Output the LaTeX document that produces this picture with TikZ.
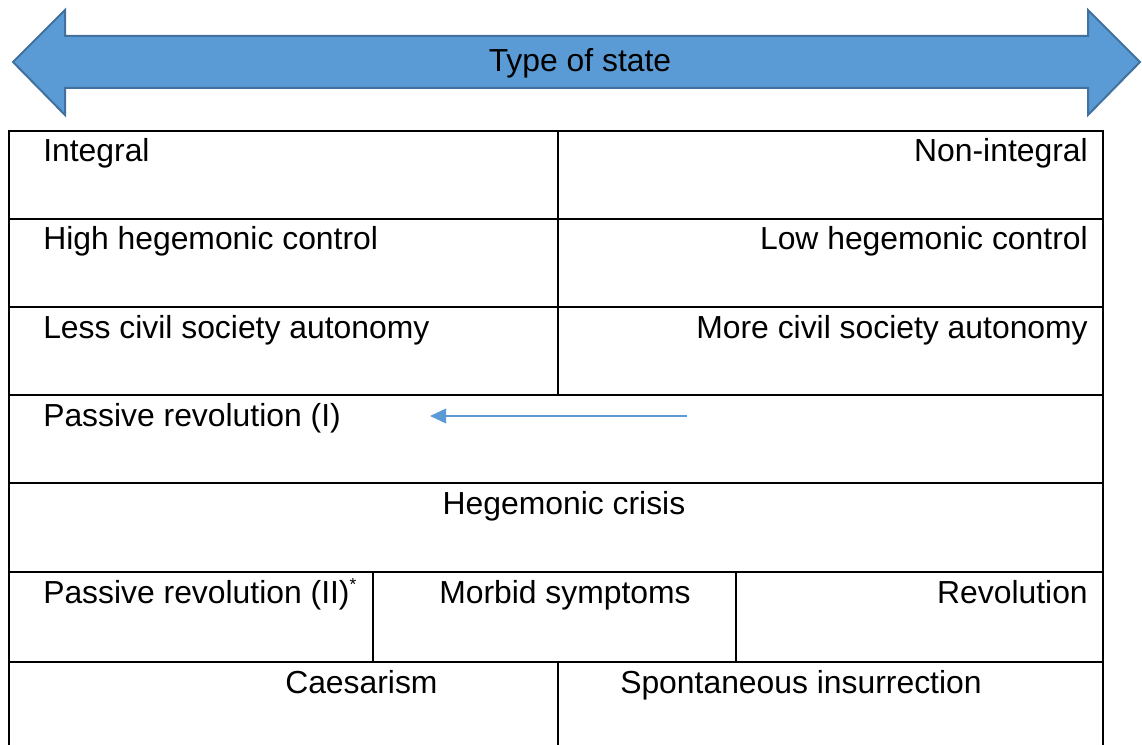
\documentclass[tikz,border=0pt]{standalone}
\usepackage{fontspec}
\setmainfont{Liberation Sans}
\usetikzlibrary{arrows.meta}
\definecolor{stateblue}{HTML}{5B9BD5}
\definecolor{stateedge}{HTML}{41719C}

\begin{document}
\begin{tikzpicture}[
    x=0.75pt, y=-0.75pt,
    label/.style={
        font=\fontsize{23.9}{29}\selectfont,
        inner sep=0pt,
        text=black
    },
    lefttext/.style={label, anchor=base west},
    righttext/.style={label, anchor=base east},
    midtext/.style={label, anchor=base},
    rule/.style={line width=1.6pt, draw=black},
    bigarrow/.style={fill=stateblue, draw=stateedge, line width=1.5pt, line join=miter},
    drift/.style={-{Triangle[length=12pt, width=11pt]}, draw=stateblue, line width=1.1pt}
]
\useasboundingbox (0,0) rectangle (1142,745);

% Type of state arrow
\draw[bigarrow] (13,62) -- (65,10) -- (65,36) -- (1088,36) -- (1088,10)
    -- (1140,62) -- (1088,115) -- (1088,88) -- (65,88) -- (65,115) -- cycle;
\node[midtext] (state) at (580,72) {Type of state};

% Table rules
\draw[rule] (9,745) -- (9,131) -- (1103,131) -- (1103,745);
\foreach \y in {219,307,395,483,572,662}
    \draw[rule] (9,\y) -- (1103,\y);
\draw[rule] (558,131) -- (558,395);
\draw[rule] (373,572) -- (373,662);
\draw[rule] (736,572) -- (736,662);
\draw[rule] (558,662) -- (558,745);

% Nodes
\node[lefttext]  (int)     at (43,162)   {Integral};
\node[righttext] (nonint)  at (1088,162) {Non-integral};
\node[lefttext]  (high)    at (43,250)   {High hegemonic control};
\node[righttext] (low)     at (1088,250) {Low hegemonic control};
\node[lefttext]  (less)    at (43,338)   {Less civil society autonomy};
\node[righttext] (more)    at (1088,338) {More civil society autonomy};
\node[lefttext]  (passI)   at (43,426)   {Passive revolution (I)};
\node[midtext]   (crisis)  at (564,514)  {Hegemonic crisis};
\node[lefttext]  (passII)  at (43,603)   {Passive revolution (II)\textsuperscript{\fontsize{13}{13}\selectfont *}};
\node[lefttext]  (morbid)  at (439,603)  {Morbid symptoms};
\node[righttext] (rev)     at (1088,603) {Revolution};
\node[lefttext]  (caesar)  at (285,693)  {Caesarism};
\node[lefttext]  (spont)   at (620,693)  {Spontaneous insurrection};

% Arrows
\coordinate (driftstart) at (687,416);
\coordinate (driftend)   at (430,416);
\draw[drift] (driftstart) -- (driftend);

\end{tikzpicture}
\end{document}
